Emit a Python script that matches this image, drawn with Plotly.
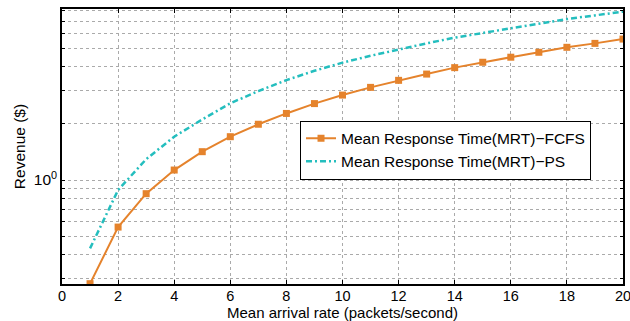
import plotly.graph_objects as go

arrival_rate = list(range(1, 21))
mrt_fcfs = [0.281, 0.562, 0.846, 1.13, 1.415, 1.70, 1.98, 2.26, 2.55, 2.83,
            3.11, 3.39, 3.66, 3.96, 4.23, 4.50, 4.78, 5.08, 5.33, 5.62]
mrt_ps = [0.433, 0.885, 1.29, 1.70, 2.10, 2.56, 2.97, 3.40, 3.81, 4.21,
          4.58, 4.95, 5.33, 5.72, 6.06, 6.42, 6.81, 7.18, 7.51, 7.86]

x_ticks = list(range(0, 21, 2))
y_grid = [0.3, 0.4, 0.5, 0.6, 0.7, 0.8, 0.9, 1, 2, 3, 4, 5, 6, 7, 8]
y_labels = ["10<sup>0</sup>" if v == 1 else "" for v in y_grid]

orange = "#E5832C"
teal = "#24BEBE"
font = "Liberation Sans, Arial, sans-serif"

fig = go.Figure()
fig.add_trace(go.Scatter(
    x=arrival_rate, y=mrt_fcfs, mode="lines+markers",
    name="Mean Response Time(MRT)\u2212FCFS",
    line=dict(color=orange, width=2),
    marker=dict(symbol="square", size=7, color=orange),
))
fig.add_trace(go.Scatter(
    x=arrival_rate, y=mrt_ps, mode="lines",
    name="Mean Response Time(MRT)\u2212PS",
    line=dict(color=teal, width=2.5, dash="6px,3px,2px,3px"),
))

fig.update_layout(
    width=630, height=321,
    margin=dict(l=62, r=7, t=9, b=37),
    paper_bgcolor="white", plot_bgcolor="white",
    font=dict(family=font, size=15, color="black"),
    showlegend=True,
    legend=dict(
        x=0.943, y=0.487, xanchor="right", yanchor="middle",
        bgcolor="white", bordercolor="black", borderwidth=1,
        font=dict(size=15.5, family=font),
        tracegroupgap=0, itemwidth=30,
    ),
)
fig.update_xaxes(
    range=[0, 20], tickvals=x_ticks, ticktext=[str(v) for v in x_ticks],
    ticks="inside", ticklen=4, tickcolor="black",
    showline=True, linecolor="black", linewidth=1.5, mirror="ticks",
    showgrid=True, gridcolor="#aaaaaa", griddash="dot", gridwidth=1,
    zeroline=False, automargin=False, ticklabeloverflow="allow",
    ticklabelstandoff=-2,
    title=dict(text="Mean arrival rate (packets/second)", font=dict(size=15), standoff=0),
    tickfont=dict(size=14.5),
)
fig.update_yaxes(
    type="log", range=[-0.553, 0.9096],
    tickvals=y_grid, ticktext=y_labels,
    ticks="inside", ticklen=3, tickcolor="black",
    showline=True, linecolor="black", linewidth=1.5, mirror="ticks",
    showgrid=True, gridcolor="#aaaaaa", griddash="dot", gridwidth=1,
    zeroline=False, automargin=False,
    title=dict(text="Revenue ($)", font=dict(size=15.5), standoff=4),
    tickfont=dict(size=15.5),
)

fig.write_html("out.html")
